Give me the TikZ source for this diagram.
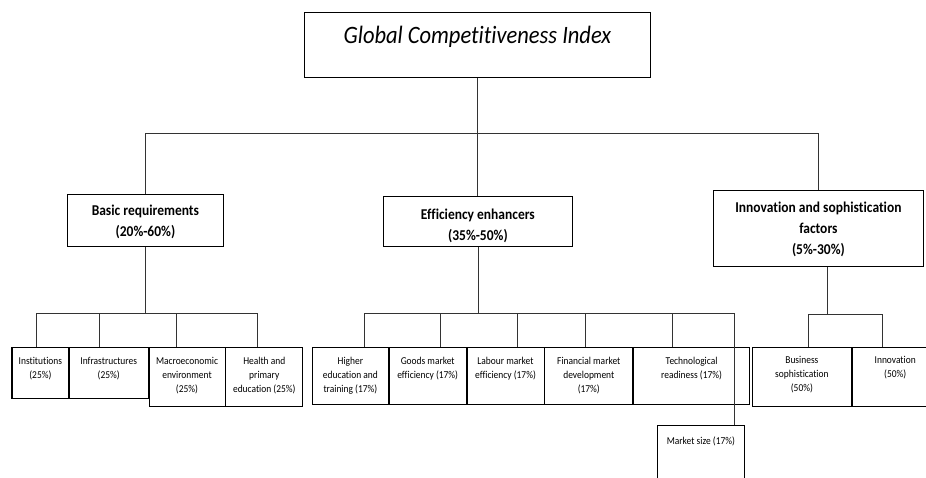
\documentclass[tikz,border=0pt]{standalone}
\usepackage{fontspec}
\setmainfont{Carlito}[FakeStretch=0.9, Ligatures=NoCommon]
\usepackage{tikz}
\usetikzlibrary{positioning, calc}
\usepackage{xcolor}
\definecolor{linkgray}{HTML}{333333}
% width, height, first baseline, text
\newcommand{\cellcontent}[4]{\parbox[t][#2pt][t]{#1pt}{\centering\rule{0pt}{#3pt}#4}}

\begin{document}
\begin{tikzpicture}[x=1pt, y=-1pt,
    cellbox/.style={draw=black, line width=0.8pt, inner sep=0pt, anchor=north west},
    link/.style={draw=linkgray, line width=0.8pt},
    topfont/.style={font=\fontsize{25}{30}\selectfont\itshape},
    midfont/.style={font=\fontsize{15}{21}\selectfont\bfseries},
    subfont/.style={font=\fontsize{10.5}{14}\selectfont}]
  \useasboundingbox (0,0) rectangle (926,477);
  \clip (0,0) rectangle (926,477);

  \node[cellbox, topfont] (gci) at (304,12) {\cellcontent{346}{65}{31}{Global Competitiveness Index}};

  \node[cellbox, midfont] (basic) at (67,194) {\cellcontent{156}{52}{21}{Basic requirements\\(20\%-60\%)}};
  \node[cellbox, midfont] (eff) at (383,196) {\cellcontent{189}{50}{23}{Efficiency enhancers\\(35\%-50\%)}};
  \node[cellbox, midfont] (innov) at (713,190) {\cellcontent{210}{76}{22}{Innovation and sophistication\\factors\\(5\%-30\%)}};

  % basic requirements pillars
  \node[cellbox, subfont] (inst) at (12,347) {\cellcontent{56}{51}{17}{Institutions\\(25\%)}};
  \node[cellbox, subfont] (infra) at (inst.north east) {\cellcontent{79}{51}{17}{Infrastructures\\(25\%)}};
  \node[cellbox, subfont] (macro) at (infra.north east) {\cellcontent{76}{59}{17}{Macroeconomic\\environment\\(25\%)}};
  \node[cellbox, subfont] (health) at (macro.north east) {\cellcontent{77}{59}{17}{Health and\\primary\\education (25\%)}};
  \draw[line width=2pt] (inst.north west) -- (inst.south west);

  % efficiency pillars
  \node[cellbox, subfont] (higher) at (312,347) {\cellcontent{76}{57}{17}{Higher\\education and\\training (17\%)}};
  \node[cellbox, subfont] (goods) at (higher.north east) {\cellcontent{77}{57}{17}{Goods market\\efficiency (17\%)}};
  \node[cellbox, subfont] (labour) at (goods.north east) {\cellcontent{77}{57}{17}{Labour market\\efficiency (17\%)}};
  \node[cellbox, subfont] (fin) at (labour.north east) {\cellcontent{88}{57}{17}{Financial market\\development\\(17\%)}};
  \node[cellbox, subfont] (tech) at (fin.north east) {\cellcontent{116}{57}{17}{Technological\\readiness (17\%)}};
  \node[cellbox, subfont] (market) at (657,425) {\cellcontent{87}{80}{19}{Market size (17\%)}};

  % innovation pillars
  \node[cellbox, subfont] (busi) at (752,347) {\cellcontent{99}{59}{16}{Business\\sophistication\\(50\%)}};
  \node[cellbox, subfont] (inno) at (busi.north east) {\cellcontent{86}{59}{16}{Innovation\\(50\%)}};

  % top connectors
  \coordinate (bus1) at (477,133);
  \draw[link] (gci.south) -- (gci.south |- eff.north);
  \draw[link] (basic.north) -- (basic.north |- bus1) -| (innov.north);

  % basic requirements connectors
  \coordinate (bus2) at (147,313);
  \draw[link] (basic.south) -- (basic.south |- bus2);
  \foreach \x/\n in {36/inst, 99/infra, 176/macro, 257/health} {
    \coordinate (d\n) at (\x,313);
    \draw[link] (d\n) -- (d\n |- \n.north);
  }
  \draw[link] (dinst) -- (dhealth);

  % efficiency connectors
  \coordinate (bus3) at (477,313);
  \draw[link] (eff.south) -- (eff.south |- bus3);
  \foreach \x/\n in {364/higher, 440/goods, 517/labour, 585/fin, 672/tech, 734/market} {
    \coordinate (d\n) at (\x,313);
    \draw[link] (d\n) -- (d\n |- \n.north);
  }
  \draw[link] (dhigher) -- (dmarket);

  % innovation connectors
  \coordinate (bus4) at (827,314);
  \draw[link] (bus4 |- innov.south) -- (bus4);
  \foreach \x/\n in {808/busi, 882/inno} {
    \coordinate (d\n) at (\x,314);
    \draw[link] (d\n) -- (d\n |- \n.north);
  }
  \draw[link] (dbusi) -- (dinno);
\end{tikzpicture}
\end{document}
